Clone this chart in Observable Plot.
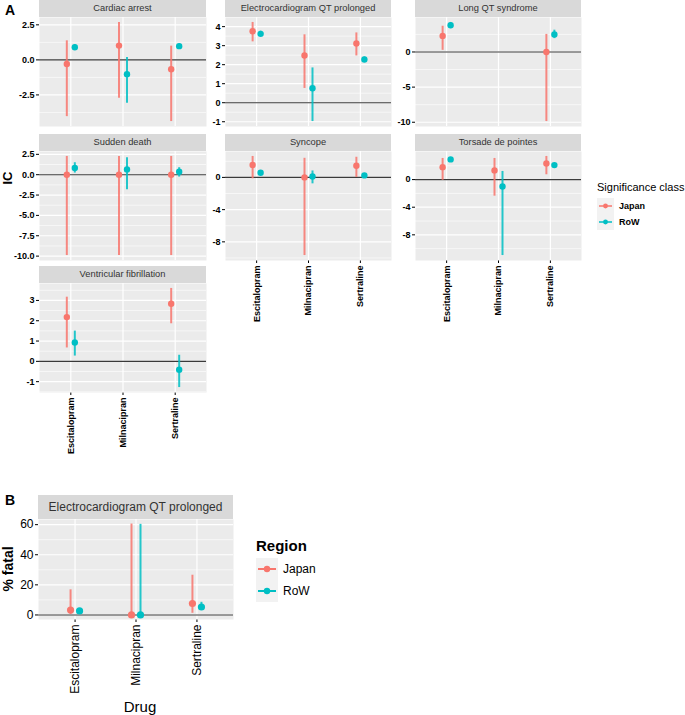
<!DOCTYPE html>
<html><head><meta charset="utf-8">
<script src="https://cdn.jsdelivr.net/npm/d3@7"></script>
<script src="https://cdn.jsdelivr.net/npm/@observablehq/plot@0.6"></script>
<style>
body{margin:0;background:#fff;font-family:"Liberation Sans",Arial,sans-serif}
#root{position:relative;width:685px;height:715px;overflow:hidden;background:#fff}
.abs{position:absolute}
.strip{position:absolute;background:#D9D9D9;color:#333;text-align:center;white-space:nowrap;overflow:hidden}
.leg{position:absolute;white-space:nowrap;color:#000}
</style></head><body><div id="root"></div><script>
// ---------- data ----------
const drugs = ["Escitalopram", "Milnacipran", "Sertraline"];
const regionNames = ["Japan", "RoW"];
const regionColors = ["#F8766D", "#00BFC4"];
const events = ["Cardiac arrest", "Electrocardiogram QT prolonged", "Long QT syndrome",
  "Sudden death", "Syncope", "Torsade de pointes", "Ventricular fibrillation"];

// Panel A: information component (IC) with credibility interval
const icEvent = [
  "Cardiac arrest","Cardiac arrest","Cardiac arrest","Cardiac arrest","Cardiac arrest","Cardiac arrest",
  "Electrocardiogram QT prolonged","Electrocardiogram QT prolonged","Electrocardiogram QT prolonged",
  "Electrocardiogram QT prolonged","Electrocardiogram QT prolonged","Electrocardiogram QT prolonged",
  "Long QT syndrome","Long QT syndrome","Long QT syndrome","Long QT syndrome",
  "Sudden death","Sudden death","Sudden death","Sudden death","Sudden death","Sudden death",
  "Syncope","Syncope","Syncope","Syncope","Syncope","Syncope",
  "Torsade de pointes","Torsade de pointes","Torsade de pointes","Torsade de pointes","Torsade de pointes","Torsade de pointes",
  "Ventricular fibrillation","Ventricular fibrillation","Ventricular fibrillation","Ventricular fibrillation"];
const icDrug = [
  "Escitalopram","Escitalopram","Milnacipran","Milnacipran","Sertraline","Sertraline",
  "Escitalopram","Escitalopram","Milnacipran","Milnacipran","Sertraline","Sertraline",
  "Escitalopram","Escitalopram","Sertraline","Sertraline",
  "Escitalopram","Escitalopram","Milnacipran","Milnacipran","Sertraline","Sertraline",
  "Escitalopram","Escitalopram","Milnacipran","Milnacipran","Sertraline","Sertraline",
  "Escitalopram","Escitalopram","Milnacipran","Milnacipran","Sertraline","Sertraline",
  "Escitalopram","Escitalopram","Sertraline","Sertraline"];
const icRegion = [
  "Japan","RoW","Japan","RoW","Japan","RoW",
  "Japan","RoW","Japan","RoW","Japan","RoW",
  "Japan","RoW","Japan","RoW",
  "Japan","RoW","Japan","RoW","Japan","RoW",
  "Japan","RoW","Japan","RoW","Japan","RoW",
  "Japan","RoW","Japan","RoW","Japan","RoW",
  "Japan","RoW","Japan","RoW"];
const icValue = [
  -0.29, 0.90, 1.02, -1.02, -0.67, 0.98,
  3.76, 3.62, 2.48, 0.76, 3.11, 2.27,
  2.29, 3.80, 0.00, 2.50,
  0.00, 0.82, 0.00, 0.65, 0.00, 0.37,
  1.54, 0.58, 0.00, 0.12, 1.45, 0.25,
  1.80, 2.92, 1.33, -1.00, 2.34, 2.10,
  2.18, 0.93, 2.84, -0.41];
const icLower = [
  -4.05, 0.72, -2.74, -3.10, -4.40, 0.84,
  3.20, 3.48, 0.75, -0.99, 2.46, 2.13,
  0.23, 3.33, -9.90, 1.90,
  -9.93, 0.20, -9.93, -1.85, -9.93, -0.29,
  -0.17, 0.46, -9.70, -0.80, 0.00, 0.13,
  -0.10, 2.76, -2.40, -11.00, 0.70, 1.96,
  0.66, 0.26, 1.85, -1.29];
const icUpper = [
  1.36, 1.08, 2.67, 0.17, 0.98, 1.12,
  4.22, 3.76, 3.57, 1.83, 3.67, 2.40,
  3.66, 4.20, 2.50, 3.10,
  2.24, 1.47, 2.24, 2.09, 2.24, 0.86,
  2.60, 0.70, 2.37, 0.80, 2.50, 0.37,
  3.06, 3.08, 3.06, 1.18, 3.35, 2.24,
  3.16, 1.49, 3.59, 0.30];

// Panel B: % fatal, Electrocardiogram QT prolonged
const fatalDrug = ["Escitalopram","Escitalopram","Milnacipran","Milnacipran","Sertraline","Sertraline"];
const fatalRegion = ["Japan","RoW","Japan","RoW","Japan","RoW"];
const fatalValue = [3.3, 2.7, 0.0, 0.0, 7.6, 5.3];
const fatalLower = [0.3, 1.1, 0.0, 0.0, 1.1, 3.1];
const fatalUpper = [16.7, 4.2, 60.4, 60.2, 26.4, 8.4];

// tick labels
const ticksCardiac = [-2.5, 0, 2.5];
const ticksECG = [-1, 0, 1, 2, 3, 4];
const ticksLongQT = [-10, -5, 0];
const ticksSudden = [-10, -7.5, -5, -2.5, 0, 2.5];
const ticksSyncope = [-8, -4, 0];
const ticksTorsade = [-8, -4, 0];
const ticksVF = [-1, 0, 1, 2, 3];
const ticksFatal = [0, 20, 40, 60];

// ---------- layout ----------
const root = document.getElementById("root");
const icRows = icEvent.map((e, i) => ({event: e, drug: icDrug[i], region: icRegion[i],
  value: icValue[i], lower: icLower[i], upper: icUpper[i]}));
const fatalRows = fatalDrug.map((d, i) => ({drug: d, region: fatalRegion[i],
  value: fatalValue[i], lower: fatalLower[i], upper: fatalUpper[i]}));

function expandDomain(rs) {
  const lo = Math.min(0, ...rs.map(d => d.lower));
  const hi = Math.max(0, ...rs.map(d => d.upper));
  const pad = (hi - lo) * 0.05;
  return [lo - pad, hi + pad];
}
function minorBreaks(major, domain) {
  const step = major[1] - major[0];
  const b = [major[0] - step, ...major, major[major.length - 1] + step];
  const m = [];
  for (let i = 0; i < b.length - 1; i++) m.push((b[i] + b[i + 1]) / 2);
  return m.filter(v => v >= domain[0] && v <= domain[1]);
}

function addDiv(cls, left, top, w, h, text, css) {
  const d = document.createElement("div");
  d.className = cls;
  d.style.left = left + "px"; d.style.top = top + "px";
  if (w != null) d.style.width = w + "px";
  if (h != null) { d.style.height = h + "px"; d.style.lineHeight = h + "px"; }
  if (text != null) d.textContent = text;
  Object.assign(d.style, css || {});
  root.appendChild(d);
  return d;
}

function panel(rs, o) {
  const domain = o.domain || expandDomain(rs);
  const marks = [
    Plot.frame({fill: "#EBEBEB", stroke: "none"}),
    Plot.ruleY(minorBreaks(o.ticks, domain), {stroke: "#fff", strokeWidth: 0.6}),
    Plot.ruleY(o.ticks.filter(v => v >= domain[0] && v <= domain[1]), {stroke: "#fff", strokeWidth: 1.2}),
    Plot.ruleX(drugs, {stroke: "#fff", strokeWidth: 1.2}),
    Plot.ruleY([0], {stroke: "#3a3a3a", strokeWidth: 1.1})
  ];
  regionNames.forEach((reg, k) => {
    const d = rs.filter(r => r.region === reg);
    const dx = k === 0 ? -o.dodge : o.dodge;
    marks.push(Plot.ruleX(d, {x: "drug", y1: "lower", y2: "upper", stroke: regionColors[k],
      strokeWidth: o.sw, strokeOpacity: 0.85, dx}));
    marks.push(Plot.dot(d, {x: "drug", y: "value", r: o.r, fill: regionColors[k], stroke: "none", dx}));
  });
  const mL = 40, mB = o.xaxis ? o.mB : 0;
  const svg = Plot.plot({
    width: o.w + mL + 2, height: o.h + mB,
    marginLeft: mL, marginRight: 2, marginTop: 0, marginBottom: mB,
    style: {background: "transparent", fontFamily: "'Liberation Sans', Arial, sans-serif",
      fontSize: o.fs + "px", color: "#000", fontWeight: o.fw, overflow: "visible"},
    x: {type: "point", domain: drugs, padding: 0.6, round: false,
      axis: o.xaxis ? "bottom" : null, tickRotate: -90, tickSize: 3, tickPadding: 2, label: null},
    y: {domain, ticks: o.ticks, tickFormat: o.fmt, tickSize: 3, tickPadding: 2, label: null},
    marks
  });
  const wrap = addDiv("abs", o.x - mL, o.y, null, null, null);
  wrap.appendChild(svg);
  addDiv("strip", o.x, o.y - o.stripH, o.w, o.stripH, o.title, {fontSize: o.sfs + "px"});
}

const fmt1 = d => d.toFixed(1);
const fmt0 = d => String(d);
const cols = [39, 225, 415], colW = [167, 166, 166];
const rowsY = [17, 151, 283];
const facetLayout = [
  {ev: events[0], c: 0, r: 0, ticks: ticksCardiac, fmt: fmt1, xaxis: false},
  {ev: events[1], c: 1, r: 0, ticks: ticksECG, fmt: fmt0, xaxis: false},
  {ev: events[2], c: 2, r: 0, ticks: ticksLongQT, fmt: fmt0, xaxis: false},
  {ev: events[3], c: 0, r: 1, ticks: ticksSudden, fmt: fmt1, xaxis: false},
  {ev: events[4], c: 1, r: 1, ticks: ticksSyncope, fmt: fmt0, xaxis: true},
  {ev: events[5], c: 2, r: 1, ticks: ticksTorsade, fmt: fmt0, xaxis: true},
  {ev: events[6], c: 0, r: 2, ticks: ticksVF, fmt: fmt0, xaxis: true}
];
facetLayout.forEach(f => {
  panel(icRows.filter(d => d.event === f.ev), {
    title: f.ev, x: cols[f.c], y: rowsY[f.r], w: colW[f.c], h: 109, stripH: 17,
    ticks: f.ticks, fmt: f.fmt, xaxis: f.xaxis, mB: 70, fs: 9, fw: "bold", sfs: 9.3,
    dodge: 4, r: 3.2, sw: 2
  });
});

// Panel B
panel(fatalRows, {
  title: "Electrocardiogram QT prolonged", x: 38, y: 519, w: 195, h: 100, stripH: 24,
  ticks: ticksFatal, fmt: fmt0, xaxis: true, mB: 90, fs: 12, fw: "normal", sfs: 12,
  dodge: 4.5, r: 3.6, sw: 2
});

// Titles / labels
addDiv("leg", 5, 1, null, 18, "A", {fontSize: "14px", fontWeight: "bold"});
addDiv("leg", 5, 491, null, 18, "B", {fontSize: "14px", fontWeight: "bold"});
addDiv("leg", -12, 170, 40, 16, "IC", {fontSize: "13px", fontWeight: "bold", textAlign: "center", transform: "rotate(-90deg)"});
addDiv("leg", -22, 560, 60, 18, "% fatal", {fontSize: "14px", fontWeight: "bold", textAlign: "center", transform: "rotate(-90deg)"});
addDiv("leg", 100, 697, 80, 20, "Drug", {fontSize: "15px", textAlign: "center"});

function legend(x, y, title, tfs, tw, keyW, keyH, gap, lfs, lw, rr, bold) {
  addDiv("leg", x, y, null, tfs + 4, title, {fontSize: tfs + "px", fontWeight: tw});
  regionNames.forEach((reg, k) => {
    const ky = y + tfs + 4 + gap + k * keyH;
    const key = addDiv("abs", x, ky, keyW, keyH, null, {background: "#F2F2F2"});
    key.innerHTML = `<svg width="${keyW}" height="${keyH}"><line x1="2" x2="${keyW - 2}" y1="${keyH / 2}" y2="${keyH / 2}" stroke="${regionColors[k]}" stroke-width="${lw}"/><circle cx="${keyW / 2}" cy="${keyH / 2}" r="${rr}" fill="${regionColors[k]}"/></svg>`;
    addDiv("leg", x + keyW + 5, ky, null, keyH, reg, {fontSize: lfs + "px", fontWeight: bold ? "bold" : "normal"});
  });
}
legend(597, 180, "Significance class", 11, "normal", 17, 16, 3, 9, 1.5, 2.4, true);
legend(256, 536, "Region", 15, "bold", 22, 22, 3, 12, 2, 3.2, false);
</script></body></html>
